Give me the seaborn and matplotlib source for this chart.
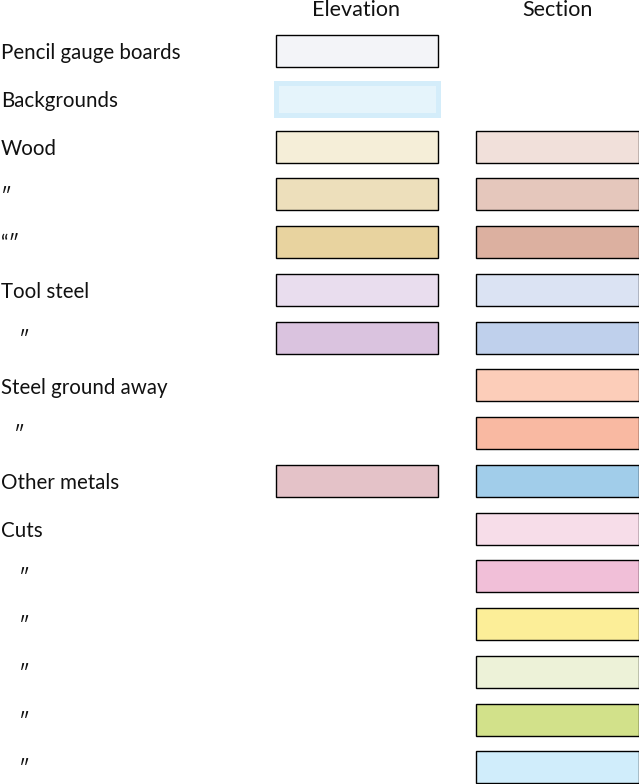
import matplotlib
matplotlib.use("Agg")
import matplotlib.pyplot as plt
import seaborn as sns
import pandas as pd

# colour chart data
row_labels = ["Pencil gauge boards", "Backgrounds", "Wood", "″", "“″", "Tool steel", "″",
              "Steel ground away", "″", "Other metals", "Cuts", "″", "″", "″", "″", "″"]
column_titles = ["Elevation", "Section"]
elevation_colors = ["#f3f4f8", "#e5f4fb", "#f5eed8", "#eddfbb", "#e8d39f", "#e9ddee", "#dac3df",
                    None, None, "#e4c2c8", None, None, None, None, None, None]
section_colors = [None, None, "#f1e0da", "#e5c7bc", "#dcb0a0", "#dbe3f3", "#bfd0ec",
                  "#fccdb9", "#f9b9a2", "#a1cdea", "#f7dde9", "#f1bfd8", "#fcee98",
                  "#edf2d8", "#d2e18a", "#d0edfb"]
# rows whose swatch has a soft coloured frame instead of a black outline
framed_rows = {1: "#d4edfa"}

df = pd.DataFrame({"label": row_labels, "Elevation": elevation_colors, "Section": section_colors})
df["row"] = range(len(df))

# layout (pixel-based x, row-based y)
W, H = 639, 784
row0_px, pitch_px = 51.2, 47.74
col_left = {"Elevation": 275.5, "Section": 475.5}
col_width = {"Elevation": 162, "Section": 163}
label_indent_px = [1, 1, 1, 1, 1, 1, 19, 1, 14, 1, 1, 19, 19, 19, 19, 19]
box_h = 32 / pitch_px

sns.set_style("white")
plt.rcParams["font.family"] = ["Lato", "DejaVu Sans"]

fig = plt.figure(figsize=(W / 100, H / 100), dpi=100)
ax = fig.add_axes([0, 0, 1, 1])
ax.set_xlim(0, W)
ax.set_ylim((H - row0_px) / pitch_px, -row0_px / pitch_px)
ax.axis("off")

for col in column_titles:
    sub = df[df[col].notna()]
    edges = [framed_rows.get(r, "black") for r in sub["row"]]
    widths = [3.6 if r in framed_rows else 1.0 for r in sub["row"]]
    ax.barh(sub["row"], col_width[col], left=col_left[col], height=box_h,
            color=sub[col], edgecolor=edges, linewidth=widths, clip_on=False)
    ax.text(col_left[col] + col_width[col] / 2, -0.86, col, ha="center", va="center",
            fontsize=15.5, color="#111111")

for r, lab in zip(df["row"], df["label"]):
    ax.text(label_indent_px[r], r + 0.045, lab, ha="left", va="center", fontsize=14.8,
            color="#111111")

fig.savefig("out.png", dpi=100)
